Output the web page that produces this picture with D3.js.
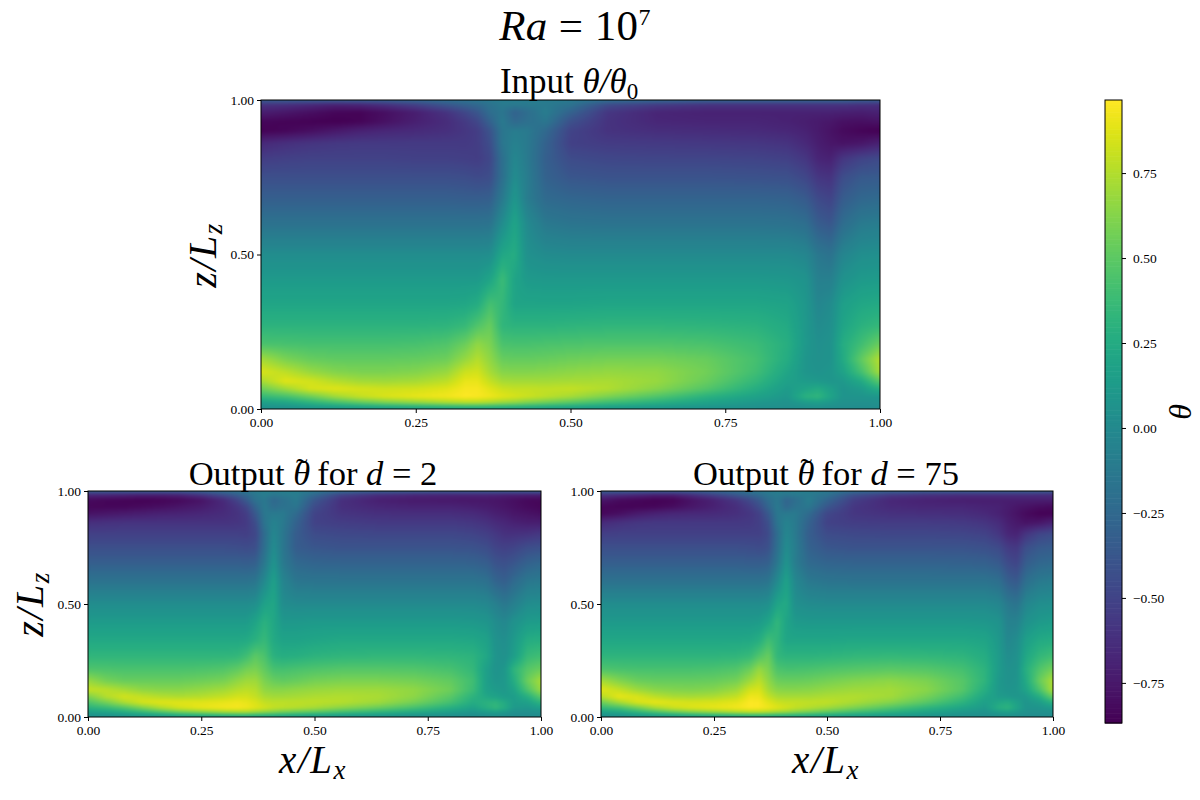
<!DOCTYPE html>
<html><head><meta charset="utf-8">
<script src="https://cdn.jsdelivr.net/npm/d3@7"></script>
<style>html,body{margin:0;background:#fff}svg{display:block}text{font-family:"Liberation Serif",serif;fill:#000}</style>
</head><body><svg id="c" width="1200" height="800"></svg>
<script>
const xKnots=[0,.04,.08,.12,.16,.2,.25,.3,.33,.35,.37,.39,.41,.43,.46,.5,.56,.64,.72,.8,.85,.88,.9,.92,.94,.97,1];
const zKnots=[1,.985,.96,.93,.9,.86,.81,.75,.68,.6,.5,.42,.34,.27,.21,.16,.12,.09,.065,.04,.02,.008,0];
const xTicks=[0,.25,.5,.75,1];
const zTicks=[0,.5,1];
const barTicks=[-.75,-.5,-.25,0,.25,.5,.75];
const thetaMin=-.868, thetaMax=.965;
const inputTheta=[
[-30,-30,-30,-30,-30,-28,-25,-20,-18,-15,-12,-10,-10,-10,-10,-12,-18,-22,-25,-25,-25,-25,-25,-25,-25,-28,-30],
[-60,-62,-66,-70,-68,-62,-52,-38,-30,-25,-18,-12,-12,-12,-12,-18,-45,-55,-60,-60,-60,-60,-60,-60,-60,-62,-62],
[-72,-76,-80,-84,-85,-80,-72,-60,-48,-38,-22,-15,-30,-22,-10,-30,-58,-68,-70,-70,-70,-70,-70,-70,-71,-72,-70],
[-84,-85,-86,-87,-85,-79,-71,-64,-56,-48,-30,-12,-25,-20,-15,-42,-60,-67,-68,-68,-70,-72,-74,-76,-79,-80,-78],
[-86,-84,-80,-75,-70,-67,-65,-62,-58,-54,-40,-15,-10,-12,-25,-50,-60,-63,-64,-65,-67,-70,-74,-78,-82,-85,-87],
[-66,-62,-59,-57,-56,-56,-56,-56,-56,-54,-44,-15,-7,-12,-30,-52,-55,-56,-57,-58,-60,-66,-72,-76,-78,-76,-70],
[-54,-52,-51,-51,-51,-51,-52,-52,-53,-54,-48,-20,-2,-12,-32,-45,-48,-49,-49,-50,-52,-58,-68,-70,-58,-50,-46],
[-43,-43,-43,-43,-43,-43,-43,-43,-44,-46,-44,-20,2,-10,-30,-38,-40,-40,-40,-41,-42,-48,-58,-60,-44,-36,-35],
[-32,-32,-32,-32,-32,-32,-32,-32,-33,-33,-32,-12,10,-10,-24,-27,-29,-29,-29,-29,-30,-35,-46,-50,-34,-26,-24],
[-18,-18,-18,-18,-18,-18,-18,-18,-18,-18,-17,2,20,0,-13,-16,-17,-17,-17,-17,-18,-21,-34,-38,-22,-12,-10],
[2,2,2,2,2,2,2,2,2,2,3,22,26,5,1,0,0,0,0,0,0,-3,-14,-18,-4,3,4],
[12,12,12,12,12,12,12,12,12,12,20,38,20,12,11,11,11,11,11,11,10,7,-8,-8,6,12,13],
[21,21,21,21,21,21,21,21,22,26,42,35,20,20,20,20,21,21,21,21,19,10,-3,1,16,22,24],
[31,31,31,31,31,31,31,32,36,46,54,33,31,31,31,32,33,33,32,30,24,11,1,4,20,30,35],
[44,43,42,42,42,42,43,46,55,66,60,44,43,43,44,45,46,46,44,38,28,11,4,6,26,40,55],
[72,60,54,52,52,52,53,56,68,76,66,54,53,53,54,56,58,58,54,42,26,9,5,7,24,52,76],
[86,78,68,62,60,60,62,68,82,84,72,63,62,62,63,65,67,66,57,40,21,9,7,9,18,42,72],
[72,88,84,76,71,70,72,78,90,90,80,72,71,71,71,72,73,68,54,34,17,13,11,9,11,24,50],
[55,70,85,88,85,83,84,88,94,94,88,82,80,80,79,80,75,63,47,27,13,20,25,17,8,13,28],
[35,42,55,70,80,86,90,93,96,95,92,88,85,82,78,72,60,46,30,18,10,30,33,20,8,8,10],
[15,20,30,40,50,58,65,72,75,75,72,68,65,60,55,48,38,28,18,10,6,12,14,10,5,4,5],
[8,9,14,18,22,26,30,34,36,36,35,33,32,30,27,24,19,14,10,6,4,6,7,5,3,3,3],
[2,3,5,7,9,10,12,13,14,14,14,13,13,12,11,10,8,6,4,3,2,3,3,2,1,1,1]];
const outputD2=[
[-25,-25,-25,-25,-25,-25,-22,-18,-15,-12,-10,-8,-8,-8,-8,-12,-18,-22,-24,-25,-25,-25,-25,-25,-25,-25,-25],
[-65,-66,-68,-70,-70,-68,-58,-42,-32,-24,-14,-10,-14,-12,-10,-25,-50,-62,-66,-68,-68,-68,-68,-70,-70,-70,-70],
[-82,-84,-85,-86,-85,-83,-78,-65,-50,-35,-18,-14,-26,-20,-12,-38,-62,-71,-74,-75,-76,-76,-77,-78,-80,-83,-84],
[-84,-84,-84,-82,-80,-77,-73,-66,-58,-48,-28,-12,-22,-18,-16,-45,-62,-67,-69,-69,-71,-73,-75,-77,-79,-82,-84],
[-78,-76,-74,-72,-70,-69,-67,-64,-60,-54,-36,-14,-12,-12,-24,-50,-59,-62,-63,-63,-65,-68,-71,-73,-76,-78,-80],
[-62,-61,-60,-60,-60,-60,-60,-60,-59,-56,-44,-16,-6,-12,-30,-51,-54,-56,-56,-56,-58,-61,-65,-67,-70,-72,-72],
[-52,-52,-52,-52,-52,-52,-52,-52,-52,-53,-48,-22,-2,-14,-34,-45,-47,-48,-48,-48,-50,-53,-57,-61,-61,-60,-57],
[-43,-43,-43,-43,-43,-43,-43,-43,-44,-45,-43,-20,2,-14,-34,-38,-40,-40,-40,-40,-41,-44,-50,-52,-50,-44,-42],
[-32,-32,-32,-32,-32,-32,-32,-32,-32,-33,-31,-13,8,-12,-25,-28,-29,-29,-29,-29,-30,-33,-40,-42,-38,-30,-26],
[-17,-17,-17,-17,-17,-17,-17,-17,-17,-17,-15,0,17,-4,-15,-16,-16,-16,-16,-16,-16,-19,-28,-32,-24,-14,-12],
[2,2,2,2,2,2,2,2,2,2,4,18,22,2,0,0,0,0,0,0,0,-2,-8,-14,-8,2,3],
[13,13,13,13,13,13,13,13,13,13,20,30,22,11,11,12,12,12,12,12,11,9,2,-2,6,13,14],
[23,23,23,23,23,23,23,23,23,24,30,36,24,19,19,21,23,23,23,23,22,18,6,3,12,26,28],
[33,33,33,33,33,33,33,33,34,40,50,44,30,27,28,31,33,34,34,33,31,22,8,5,15,36,40],
[46,45,44,44,44,44,45,47,52,58,60,52,43,42,44,46,48,48,47,43,35,16,7,10,32,48,55],
[68,58,54,54,54,54,56,59,66,70,70,60,54,52,54,58,60,60,58,52,40,16,9,11,26,55,72],
[80,78,72,66,64,64,67,71,76,78,76,66,64,64,66,68,70,70,66,56,38,17,13,11,19,45,68],
[60,76,84,80,76,74,76,80,84,84,80,73,71,71,72,74,75,73,65,49,31,22,18,14,14,28,50],
[45,58,74,85,88,88,88,90,92,90,86,80,78,78,78,78,76,70,58,42,26,30,32,24,14,17,32],
[30,36,46,60,74,84,90,93,94,92,88,84,80,78,76,72,64,54,42,28,18,28,34,26,12,10,16],
[14,18,24,32,42,52,60,68,70,70,66,62,58,54,50,46,38,30,22,14,8,12,14,10,4,4,5],
[8,8,10,14,18,24,28,32,34,34,32,30,28,26,24,20,16,12,8,5,3,5,6,4,2,2,2],
[3,3,4,6,7,9,10,12,12,12,12,11,10,10,9,8,6,5,3,2,1,2,2,1,1,1,1]];
const outputD75=[
[-25,-25,-25,-25,-25,-25,-22,-18,-15,-12,-10,-8,-8,-8,-8,-12,-18,-22,-24,-25,-25,-25,-25,-25,-25,-26,-28],
[-58,-62,-66,-70,-70,-62,-50,-36,-28,-22,-15,-12,-14,-12,-12,-18,-42,-55,-60,-62,-62,-62,-62,-62,-62,-62,-62],
[-76,-82,-84,-86,-85,-78,-70,-58,-46,-36,-22,-14,-28,-22,-10,-28,-54,-67,-70,-72,-72,-72,-72,-72,-72,-72,-72],
[-84,-85,-85,-84,-81,-76,-70,-63,-54,-44,-28,-12,-26,-18,-14,-38,-58,-65,-67,-67,-69,-70,-73,-76,-78,-81,-82],
[-84,-80,-74,-70,-67,-66,-65,-62,-58,-52,-36,-14,-12,-12,-24,-48,-58,-61,-62,-63,-66,-70,-74,-78,-82,-86,-86],
[-65,-61,-58,-57,-57,-57,-57,-57,-56,-53,-43,-16,-6,-12,-30,-51,-54,-55,-55,-56,-59,-64,-71,-75,-78,-76,-70],
[-53,-52,-52,-52,-52,-52,-52,-52,-52,-52,-46,-22,-2,-12,-33,-45,-47,-48,-48,-49,-51,-58,-67,-69,-59,-49,-45],
[-43,-43,-43,-43,-43,-43,-43,-43,-44,-45,-42,-20,2,-10,-30,-38,-40,-40,-40,-40,-42,-46,-55,-57,-43,-36,-34],
[-32,-32,-32,-32,-32,-32,-32,-32,-33,-33,-31,-14,8,-10,-24,-28,-29,-29,-29,-30,-31,-35,-45,-49,-33,-26,-24],
[-18,-18,-18,-18,-18,-18,-18,-18,-18,-18,-16,0,18,-2,-13,-16,-17,-17,-17,-17,-17,-20,-32,-36,-20,-12,-10],
[2,2,2,2,2,2,2,2,2,2,4,20,24,4,1,0,0,0,0,0,0,-3,-13,-17,-3,3,4],
[12,12,12,12,12,12,12,12,12,13,20,34,20,12,11,11,11,11,11,11,10,7,-6,-6,6,12,14],
[22,22,22,22,22,22,22,22,23,27,40,33,21,21,21,21,22,22,22,22,20,11,-2,2,16,24,26],
[32,32,32,32,32,32,32,33,36,46,54,34,31,31,31,32,34,35,34,32,26,13,2,5,22,34,40],
[46,44,43,43,43,43,44,47,56,68,60,45,43,43,44,46,48,50,48,42,31,13,5,7,28,46,58],
[72,62,55,53,53,53,54,58,70,78,66,55,54,54,55,58,62,65,60,48,32,11,6,8,24,54,74],
[88,80,70,64,62,61,63,70,84,86,72,64,63,63,64,67,70,71,64,48,27,11,8,9,19,44,74],
[76,90,86,78,73,72,74,80,92,91,80,73,72,72,72,74,75,71,58,40,21,13,11,9,11,27,54],
[55,72,86,90,87,85,86,89,96,95,88,82,80,80,79,79,73,63,49,31,16,22,25,17,8,14,30],
[35,42,56,72,82,87,90,93,96,95,92,88,84,80,76,70,60,46,32,20,12,28,32,20,8,8,12],
[15,20,30,40,50,58,65,72,75,75,72,68,65,60,55,48,38,28,18,10,6,12,14,10,5,4,5],
[8,9,14,18,22,26,30,34,36,36,35,33,32,30,27,24,19,14,10,6,4,6,7,5,3,3,3],
[2,3,5,7,9,10,12,13,14,14,14,13,13,12,11,10,8,6,4,3,2,3,3,2,1,1,1]];

const svg=d3.select("#c");
const color=d3.scaleSequential(d3.interpolateViridis).domain([thetaMin,thetaMax]);
const fmt=d3.format(".2f");
const minus=v=>fmt(v).replace("-","\u2212");

function heat(grid,W,H){
  const cv=document.createElement("canvas");cv.width=W;cv.height=H;
  const ctx=cv.getContext("2d"),img=ctx.createImageData(W,H);
  const cols=xKnots.map((_,j)=>d3.scaleLinear().domain(zKnots).range(grid.map(r=>r[j]/100)));
  for(let y=0;y<H;y++){
    const z=1-(y+.5)/H;
    const row=d3.scaleLinear().domain(xKnots).range(cols.map(c=>c(z)));
    for(let x=0;x<W;x++){
      const c=d3.rgb(color(row((x+.5)/W))),k=(y*W+x)*4;
      img.data[k]=c.r;img.data[k+1]=c.g;img.data[k+2]=c.b;img.data[k+3]=255;
    }
  }
  ctx.putImageData(img,0,0);
  const out=document.createElement("canvas");out.width=W;out.height=H;
  const o=out.getContext("2d");
  o.drawImage(cv,0,0);
  o.filter="blur(1.6px)";
  o.drawImage(cv,0,0);
  return out.toDataURL();
}
function panel(grid,L,T,W,H){
  const g=svg.append("g").attr("transform",`translate(${L},${T})`);
  const x=d3.scaleLinear().domain([0,1]).range([0,W]);
  const y=d3.scaleLinear().domain([0,1]).range([H,0]);
  g.append("image").attr("width",W).attr("height",H).attr("preserveAspectRatio","none").attr("href",heat(grid,W,H));
  const ax=g.append("g").attr("transform",`translate(0,${H})`).call(d3.axisBottom(x).tickValues(xTicks).tickFormat(fmt).tickSize(4).tickPadding(4));
  const ay=g.append("g").call(d3.axisLeft(y).tickValues(zTicks).tickFormat(fmt).tickSize(4).tickPadding(3));
  [ax,ay].forEach(a=>{a.select(".domain").remove();a.selectAll("text").style("font-size","13.5px").attr("fill","#000");a.selectAll("line").attr("stroke","#000")});
  g.append("rect").attr("width",W).attr("height",H).attr("fill","none").attr("stroke","#000").attr("stroke-width",1);
}
panel(inputTheta,261,100,619,309);
panel(outputD2,88,491,453,226);
panel(outputD75,601,491,452,226);

function rich(x,y,size,parts,rot,spacing){
  const t=svg.append("text").attr("text-anchor","middle").attr("font-size",size)
    .attr("transform",`translate(${x},${y})${rot?" rotate(-90)":""}`);
  if(spacing)t.attr("letter-spacing",spacing);
  parts.forEach(p=>{
    const s=t.append("tspan").text(p.t);
    if(p.i)s.attr("font-style","italic");
    if(p.dy)s.attr("dy",p.dy);
    if(p.dx)s.attr("dx",p.dx);
    if(p.fs)s.attr("font-size",p.fs);
  });
}
rich(575,40,43,[{t:"Ra",i:1},{t:" = 10"},{t:"7",fs:24,dy:-15}],false,.4);
rich(569,93,35,[{t:"Input "},{t:"\u03B8/\u03B8",i:1},{t:"0",fs:23,dy:6}]);
const outTitle=d=>[{t:"Output "},{t:"\u03B8",i:1},{t:"\u02DC",dx:-14,dy:-3},{t:" for ",dx:1,dy:3},{t:"d",i:1},{t:" = "+d}];
rich(313,485,34.5,outTitle(2));
rich(826,485,34.5,outTitle(75));
rich(313,773,39,[{t:"x/L",i:1},{t:"x",i:1,fs:27,dy:6}],false,1.5);
rich(826,773,39,[{t:"x/L",i:1},{t:"x",i:1,fs:27,dy:6}],false,1.5);
rich(216,255,40,[{t:"z/L",i:1},{t:"z",i:1,fs:27,dy:6}],true,1.5);
rich(43,604,40,[{t:"z/L",i:1},{t:"z",i:1,fs:27,dy:6}],true,1.5);
rich(1191,412,32,[{t:"\u03B8",i:1}],true);

// colour bar
const barY=d3.scaleLinear().domain([thetaMin,thetaMax]).range([723,100]);
const stepH=(thetaMax-thetaMin)/255;
const steps=d3.range(0,255).map(i=>thetaMin+stepH*i);
svg.append("g").selectAll("rect").data(steps).join("rect")
  .attr("x",1105).attr("width",17).attr("y",d=>barY(d+stepH)).attr("height",d=>barY(d)-barY(d+stepH)+.6).attr("fill",d=>color(d+stepH/2));
svg.append("rect").attr("x",1105).attr("y",100).attr("width",17).attr("height",623).attr("fill","none").attr("stroke","#000");
const bar=svg.append("g").attr("transform","translate(1122,0)").call(d3.axisRight(barY).tickValues(barTicks).tickFormat(minus).tickSize(4).tickPadding(7));
bar.select(".domain").remove();bar.selectAll("text").style("font-size","13.5px");bar.selectAll("line").attr("stroke","#000");
</script></body></html>
